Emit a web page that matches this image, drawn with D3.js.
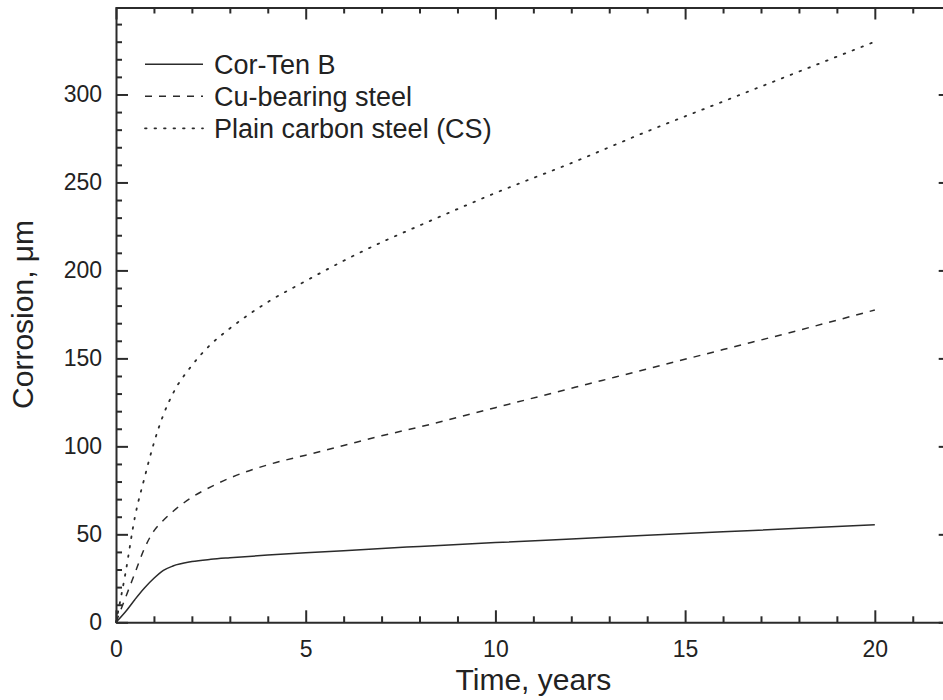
<!DOCTYPE html>
<html>
<head>
<meta charset="utf-8">
<script src="https://cdn.jsdelivr.net/npm/d3@7"></script>
<style>
  html, body { margin: 0; padding: 0; background: #fff; }
  svg { display: block; font-family: "Liberation Sans", Arial, Helvetica, sans-serif; }
</style>
</head>
<body>
<div id="chart"></div>
<script>
// Corrosion vs time
const years = [0, 0.25, 0.5, 0.75, 1, 1.25, 1.5, 2, 2.5, 3, 4, 5, 6, 7, 8, 10, 12, 14, 16, 18, 20];
const corTenB = [0, 6, 13, 19.5, 25, 29.5, 32, 34.5, 35.8, 36.7, 38.2, 39.5, 40.7, 42, 43.1, 45.3, 47.4, 49.5, 51.5, 53.4, 55.5];
const cuBearing = [0, 14, 28, 42, 52, 58, 63, 71, 77, 82, 89.5, 95, 100.5, 106, 111, 122, 133, 144, 155, 166, 177.5];
const plainCS = [0, 28, 60, 82, 102, 118, 130, 146, 158, 167, 182, 194, 205.5, 216, 225.5, 244, 261, 279, 296, 313, 330];

const seriesNames = ['Cor-Ten B', 'Cu-bearing steel', 'Plain carbon steel (CS)'];
const seriesValues = [corTenB, cuBearing, plainCS];
const seriesDash = [null, '7,7', '1.6,7.9'];

const xTicks = [0, 5, 10, 15, 20];
const yTicks = [0, 50, 100, 150, 200, 250, 300];

const width = 943, height = 700;
const plotLeft = 116, plotRight = 950.7, plotTop = 6.5, plotBottom = 622.3;
const ink = '#2b2b2b';

const svg = d3.select('#chart').append('svg')
    .attr('width', width)
    .attr('height', height);

const x = d3.scaleLinear().domain([0, 22]).range([plotLeft, plotRight]);
const y = d3.scaleLinear().domain([0, 350]).range([plotBottom, plotTop]);

// minor tick positions
const xMinor = d3.range(0, 23, 1).filter(v => v % 5 !== 0);
const yMinor = d3.range(0, 351, 10).filter(v => v % 50 !== 0);

function styleAxis(g) {
    g.select('.domain').attr('stroke', ink).attr('stroke-width', 2);
    g.selectAll('.tick line').attr('stroke', ink).attr('stroke-width', 2);
    g.selectAll('.tick text').attr('fill', '#222').style('font-size', '23px');
}

// bottom axis
svg.append('g')
    .attr('transform', `translate(0,${plotBottom})`)
    .call(d3.axisBottom(x).tickValues(xMinor).tickSize(-6).tickSizeOuter(0).tickFormat(''))
    .call(styleAxis);
svg.append('g')
    .attr('transform', `translate(0,${plotBottom})`)
    .call(d3.axisBottom(x).tickValues(xTicks).tickSize(-12).tickSizeOuter(0).tickPadding(18))
    .call(styleAxis)
    .call(g => g.select('.domain').remove());

// top axis
svg.append('g')
    .attr('transform', `translate(0,${plotTop + 1})`)
    .call(d3.axisTop(x).tickValues(xMinor).tickSize(-6).tickSizeOuter(0).tickFormat(''))
    .call(styleAxis);
svg.append('g')
    .attr('transform', `translate(0,${plotTop + 1})`)
    .call(d3.axisTop(x).tickValues(xTicks).tickSize(-12).tickSizeOuter(0).tickFormat(''))
    .call(styleAxis)
    .call(g => g.select('.domain').remove());

// left axis
svg.append('g')
    .attr('transform', `translate(${plotLeft},0)`)
    .call(d3.axisLeft(y).tickValues(yMinor).tickSize(-6).tickSizeOuter(0).tickFormat(''))
    .call(styleAxis);
svg.append('g')
    .attr('transform', `translate(${plotLeft},0)`)
    .call(d3.axisLeft(y).tickValues(yTicks).tickSize(-12).tickSizeOuter(0).tickPadding(14))
    .call(styleAxis)
    .call(g => g.select('.domain').remove());

// right axis
svg.append('g')
    .attr('transform', `translate(${plotRight},0)`)
    .call(d3.axisRight(y).tickValues(yTicks).tickSize(-12).tickSizeOuter(0).tickFormat(''))
    .call(styleAxis);

// curves
const line = d3.line()
    .x((d, i) => x(years[i]))
    .y(d => y(d))
    .curve(d3.curveMonotoneX);

seriesValues.forEach((vals, i) => {
    svg.append('path')
        .datum(vals)
        .attr('fill', 'none')
        .attr('stroke', ink)
        .attr('stroke-width', i === 2 ? 1.8 : 1.5)
        .attr('stroke-linecap', i === 2 ? 'round' : 'butt')
        .attr('stroke-dasharray', seriesDash[i])
        .attr('d', line);
});

// legend
const legend = svg.append('g');
seriesNames.forEach((name, i) => {
    const ly = 64.3 + i * 32;
    legend.append('line')
        .attr('x1', 145).attr('x2', 203)
        .attr('y1', ly).attr('y2', ly)
        .attr('stroke', ink)
        .attr('stroke-width', i === 2 ? 1.8 : 1.5)
        .attr('stroke-linecap', i === 2 ? 'round' : 'butt')
        .attr('stroke-dasharray', seriesDash[i]);
    legend.append('text')
        .attr('x', 214)
        .attr('y', ly + 10)
        .attr('fill', '#222')
        .style('font-size', '27px')
        .text(name);
});

// axis titles
svg.append('text')
    .attr('x', (plotLeft + plotRight) / 2)
    .attr('y', 690)
    .attr('text-anchor', 'middle')
    .attr('fill', '#222')
    .style('font-size', '30px')
    .text('Time, years');

svg.append('text')
    .attr('transform', `translate(33,${(plotTop + plotBottom) / 2}) rotate(-90)`)
    .attr('text-anchor', 'middle')
    .attr('fill', '#222')
    .style('font-size', '30px')
    .text('Corrosion, μm');
</script>
</body>
</html>
